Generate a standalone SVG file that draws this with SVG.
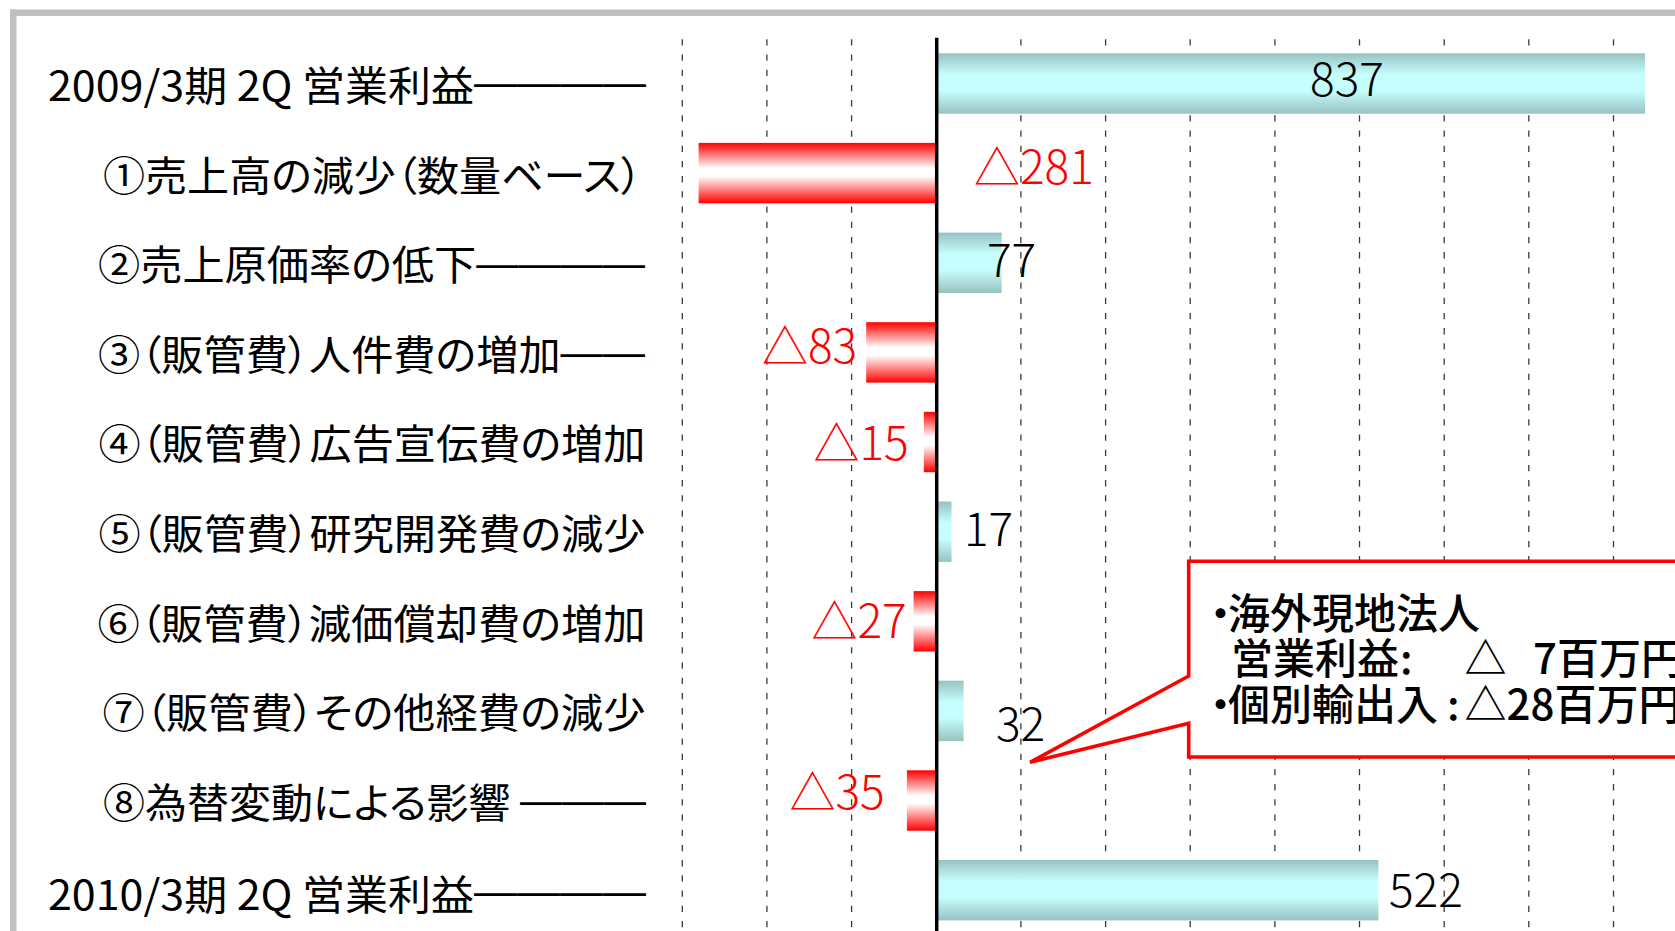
<svg xmlns="http://www.w3.org/2000/svg" width="1675" height="931" viewBox="0 0 1675 931">
<style>
.lbl{font-family:"Noto Sans CJK JP","Noto Sans CJK SC",sans-serif;font-size:41px;fill:#000;font-feature-settings:"palt";}
.dash{font-family:"Liberation Sans","Noto Sans CJK JP",sans-serif;font-feature-settings:normal;}
.val{font-family:"Noto Sans CJK JP","Noto Sans CJK SC",sans-serif;font-size:46px;font-weight:300;}
.neg{fill:#ff0000;}
.pos{fill:#000;}
.grid{stroke:#3a3a3a;stroke-width:1.3;stroke-dasharray:6.3 8.9;fill:none;}
.barp{fill:url(#gTeal);}
.barn{fill:url(#gRed);}
.call{font-family:"Noto Sans CJK JP","Noto Sans CJK SC",sans-serif;font-size:42px;font-weight:500;fill:#000;font-feature-settings:"palt";}
</style>
<defs>
<linearGradient id="gTeal" x1="0" y1="0" x2="0" y2="1">
<stop offset="0" stop-color="#98c2c2"/>
<stop offset="0.35" stop-color="#c6fdfd"/>
<stop offset="0.62" stop-color="#c6fdfd"/>
<stop offset="1" stop-color="#98c2c2"/>
</linearGradient>
<linearGradient id="gRed" x1="0" y1="0" x2="0" y2="1">
<stop offset="0" stop-color="#ff0000"/>
<stop offset="0.42" stop-color="#ffffff"/>
<stop offset="0.55" stop-color="#ffffff"/>
<stop offset="1" stop-color="#ff0000"/>
</linearGradient>
</defs>
<rect width="1675" height="931" fill="#ffffff"/>
<g id="frame" fill="#c0c0c0">
<rect x="10" y="9.5" width="1665" height="6.5"/>
<rect x="10" y="9.5" width="6.5" height="921.5"/>
</g>
<g id="gridlines">
<line class="grid" x1="682.3" y1="39.3" x2="682.3" y2="931"/>
<line class="grid" x1="766.9" y1="39.3" x2="766.9" y2="931"/>
<line class="grid" x1="851.6" y1="39.3" x2="851.6" y2="931"/>
<line class="grid" x1="1020.9" y1="39.3" x2="1020.9" y2="931"/>
<line class="grid" x1="1105.6" y1="39.3" x2="1105.6" y2="931"/>
<line class="grid" x1="1190.2" y1="39.3" x2="1190.2" y2="931"/>
<line class="grid" x1="1274.9" y1="39.3" x2="1274.9" y2="931"/>
<line class="grid" x1="1359.5" y1="39.3" x2="1359.5" y2="931"/>
<line class="grid" x1="1444.2" y1="39.3" x2="1444.2" y2="931"/>
<line class="grid" x1="1528.8" y1="39.3" x2="1528.8" y2="931"/>
<line class="grid" x1="1613.5" y1="39.3" x2="1613.5" y2="931"/>
</g>
<g id="row0">
<text class="lbl" x="646" y="100.5" text-anchor="end" textLength="598" lengthAdjust="spacingAndGlyphs">2009/3期 2Q 営業利益<tspan class="dash" dy="-5">――――</tspan></text>
<rect class="barp" x="936.5" y="53.3" width="708.5" height="60.4"/>
<text class="val pos" x="1347" y="95.5" text-anchor="middle">837</text>
</g>
<g id="row1">
<text class="lbl" x="642" y="190.5" text-anchor="end" textLength="539" lengthAdjust="spacingAndGlyphs">①売上高の減少（数量ベース）</text>
<rect class="barn" x="698.6" y="142.9" width="237.9" height="60.4"/>
<text class="val neg" x="974" y="184">△281</text>
</g>
<g id="row2">
<text class="lbl" x="645" y="280.1" text-anchor="end" textLength="547" lengthAdjust="spacingAndGlyphs">②売上原価率の低下<tspan class="dash" dy="-3">――――</tspan></text>
<rect class="barp" x="936.5" y="232.6" width="65.2" height="60.4"/>
<text class="val pos" x="987" y="277.3">77</text>
</g>
<g id="row3">
<text class="lbl" x="645" y="369.8" text-anchor="end" textLength="547" lengthAdjust="spacingAndGlyphs">③（販管費）人件費の増加<tspan class="dash" dy="-4">――</tspan></text>
<rect class="barn" x="866.2" y="322.2" width="70.3" height="60.4"/>
<text class="val neg" x="762" y="363.3">△83</text>
</g>
<g id="row4">
<text class="lbl" x="645.5" y="459.4" text-anchor="end" textLength="547" lengthAdjust="spacingAndGlyphs">④（販管費）広告宣伝費の増加</text>
<rect class="barn" x="923.8" y="411.8" width="12.7" height="60.4"/>
<text class="val neg" x="813.5" y="460">△15</text>
</g>
<g id="row5">
<text class="lbl" x="645.5" y="549" text-anchor="end" textLength="547" lengthAdjust="spacingAndGlyphs">⑤（販管費）研究開発費の減少</text>
<rect class="barp" x="936.5" y="501.5" width="15" height="60.4"/>
<text class="val pos" x="964" y="546">17</text>
</g>
<g id="row6">
<text class="lbl" x="645.5" y="638.6" text-anchor="end" textLength="548" lengthAdjust="spacingAndGlyphs">⑥（販管費）減価償却費の増加</text>
<rect class="barn" x="913.6" y="591.1" width="22.9" height="60.4"/>
<text class="val neg" x="811.5" y="638.3">△27</text>
</g>
<g id="row7">
<text class="lbl" x="645.5" y="728.3" text-anchor="end" textLength="543" lengthAdjust="spacingAndGlyphs">⑦（販管費）その他経費の減少</text>
<rect class="barp" x="936.5" y="680.7" width="27.1" height="60.4"/>
<text class="val pos" x="996" y="740.7">32</text>
</g>
<g id="row8">
<text class="lbl" x="646" y="817.9" text-anchor="end" textLength="543" lengthAdjust="spacingAndGlyphs">⑧為替変動による影響 <tspan class="dash" dy="-4">―――</tspan></text>
<rect class="barn" x="906.9" y="770.3" width="29.6" height="60.4"/>
<text class="val neg" x="789.5" y="809.3">△35</text>
</g>
<g id="row9">
<text class="lbl" x="646" y="909.5" text-anchor="end" textLength="598" lengthAdjust="spacingAndGlyphs">2010/3期 2Q 営業利益<tspan class="dash" dy="-5">――――</tspan></text>
<rect class="barp" x="936.5" y="860" width="441.9" height="60.4"/>
<text class="val pos" x="1389" y="907">522</text>
</g>
<g id="axis">
<line x1="936.7" y1="37.7" x2="936.7" y2="931" stroke="#000" stroke-width="3.5"/>
</g>
<g id="connectors"></g>
<g id="callout">
<path d="M1188.7,676 L1030,762.3 L1188.7,723.3 L1188.7,757 L1700,757 L1700,561.3 L1188.7,561.3 Z" fill="#ffffff" stroke="#ff0000" stroke-width="3.6"/>
<text class="call" y="629"><tspan x="1210">・</tspan><tspan x="1228">海外現地法人</tspan></text>
<text class="call" y="674"><tspan x="1231">営業利益</tspan><tspan x="1400">:</tspan><tspan x="1464.6">△</tspan><tspan x="1533">7百万円</tspan></text>
<text class="call" y="720"><tspan x="1210">・</tspan><tspan x="1228">個別輸出入</tspan><tspan x="1447">:</tspan><tspan x="1464.6">△28百万円</tspan></text>
</g>
</svg>
